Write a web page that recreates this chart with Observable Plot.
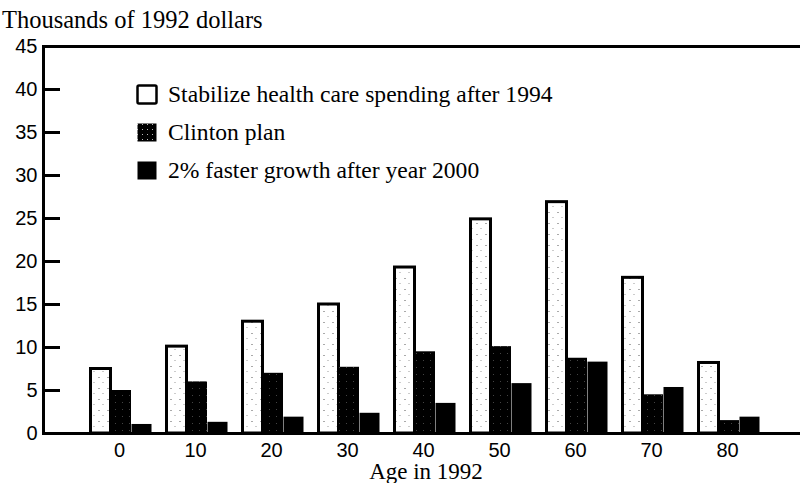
<!DOCTYPE html>
<html>
<head>
<meta charset="utf-8">
<script src="https://cdn.jsdelivr.net/npm/d3@7"></script>
<script src="https://cdn.jsdelivr.net/npm/@observablehq/plot@0.6"></script>
<style>
  html, body { margin: 0; padding: 0; background: #fff; overflow: hidden; }
  #wrap { position: relative; width: 800px; height: 483px; background: #fff; overflow: hidden; }
  #chart { position: absolute; left: 0; top: 0; }
  .serif { font-family: "Liberation Serif", "Times New Roman", serif; color: #000; }
  #title { position: absolute; left: 2px; top: 7px; font-size: 24.5px; line-height: 25px; white-space: nowrap; }
  #xlabel { position: absolute; left: 0; width: 852px; text-align: center; top: 461px; font-size: 23px; line-height: 22px; white-space: nowrap; }
  #legend { position: absolute; left: 136px; top: 84px; }
  .row { display: flex; align-items: center; height: 21px; margin-bottom: 17px; white-space: nowrap; font-size: 23.6px; line-height: 21px; }
  .row svg { flex: none; margin-right: 10px; }
</style>
</head>
<body>
<div id="wrap">
  <div id="chart"></div>
  <div id="title" class="serif"></div>
  <div id="legend" class="serif"></div>
  <div id="xlabel" class="serif"></div>
</div>
<script>
// ---- data ----
const ages = [0, 10, 20, 30, 40, 50, 60, 70, 80];
const stabilize = [7.5, 10.1, 13.0, 15.0, 19.3, 24.9, 26.9, 18.1, 8.2];
const clinton   = [5.0, 6.0, 7.0, 7.7, 9.5, 10.1, 8.75, 4.5, 1.5];
const faster    = [1.05, 1.3, 1.9, 2.35, 3.5, 5.8, 8.3, 5.35, 1.9];
const seriesNames = [
  "Stabilize health care spending after 1994",
  "Clinton plan",
  "2% faster growth after year 2000"
];
const yTicks = [0, 5, 10, 15, 20, 25, 30, 35, 40, 45];
const titleText = "Thousands of 1992 dollars";
const xLabelText = "Age in 1992";

const seriesFills = ["url(#stipple)", "url(#darkstipple)", "#000"];

const rows = ages.map((a, i) => ({age: String(a), stabilize: stabilize[i], clinton: clinton[i], faster: faster[i]}));

const plot = Plot.plot({
  width: 800,
  height: 483,
  marginLeft: 43,
  marginRight: -2,
  marginTop: 46,
  marginBottom: 50,
  style: {fontFamily: "'Liberation Sans', Arial, sans-serif", fontSize: "20px", color: "#000", background: "#fff"},
  x: {domain: ages.map(String), paddingInner: 0.732, paddingOuter: 0.827, align: 0.52, label: null},
  y: {domain: [0, 45], label: null},
  marks: [
    Plot.barY(rows, {x: "age", y: "stabilize", fill: seriesFills[0], stroke: "#000", strokeWidth: 3, dx: -20.5}),
    Plot.barY(rows, {x: "age", y: "clinton", fill: seriesFills[1], dx: 0}),
    Plot.barY(rows, {x: "age", y: "faster", fill: seriesFills[2], dx: 20.5}),
    Plot.frame({stroke: "#000", strokeWidth: 3}),
    Plot.axisY({ticks: yTicks, tickSize: 17, dx: 17, fill: "none", stroke: "#000", strokeWidth: 3, label: null}),
    Plot.axisY({ticks: yTicks, tickSize: 0, tickPadding: 6, label: null}),
    Plot.axisX({tickSize: 0, tickPadding: 9, dx: -2, label: null})
  ]
});

// patterns for stippled fills
const ns = "http://www.w3.org/2000/svg";
const defs = document.createElementNS(ns, "defs");
defs.innerHTML = `
  <pattern id="stipple" width="9" height="11" patternUnits="userSpaceOnUse">
    <rect width="9" height="11" fill="#fff"/>
    <rect x="2" y="3" width="1" height="1" fill="#555"/>
    <rect x="6" y="8" width="1" height="1" fill="#999"/>
  </pattern>
  <pattern id="darkstipple" width="7" height="7" patternUnits="userSpaceOnUse">
    <rect width="7" height="7" fill="#000"/>
    <rect x="3" y="3" width="1" height="1" fill="#444"/>
  </pattern>`;
plot.insertBefore(defs, plot.firstChild);
document.getElementById("chart").appendChild(plot);

document.getElementById("title").textContent = titleText;
document.getElementById("xlabel").textContent = xLabelText;

const legend = document.getElementById("legend");
seriesNames.forEach((name, i) => {
  const row = document.createElement("div");
  row.className = "row";
  const sw = document.createElementNS(ns, "svg");
  sw.setAttribute("width", "22");
  sw.setAttribute("height", "21");
  const r = document.createElementNS(ns, "rect");
  r.setAttribute("x", "1.5"); r.setAttribute("y", "1.5");
  r.setAttribute("width", "19"); r.setAttribute("height", "18");
  r.setAttribute("fill", i === 1 ? "url(#lgdark)" : (i === 0 ? "#fff" : seriesFills[i]));
  if (i === 0) { r.setAttribute("stroke", "#000"); r.setAttribute("stroke-width", "2.5"); r.setAttribute("rx", "1.5"); }
  if (i === 1) {
    const d = document.createElementNS(ns, "defs");
    d.innerHTML = `<pattern id="lgdark" width="5" height="5" patternUnits="userSpaceOnUse"><rect width="5" height="5" fill="#000"/><rect x="1" y="2" width="1" height="1" fill="#bbb"/></pattern>`;
    sw.appendChild(d);
  }
  sw.appendChild(r);
  row.appendChild(sw);
  const t = document.createElement("span");
  t.textContent = name;
  row.appendChild(t);
  legend.appendChild(row);
});
</script>
</body>
</html>
